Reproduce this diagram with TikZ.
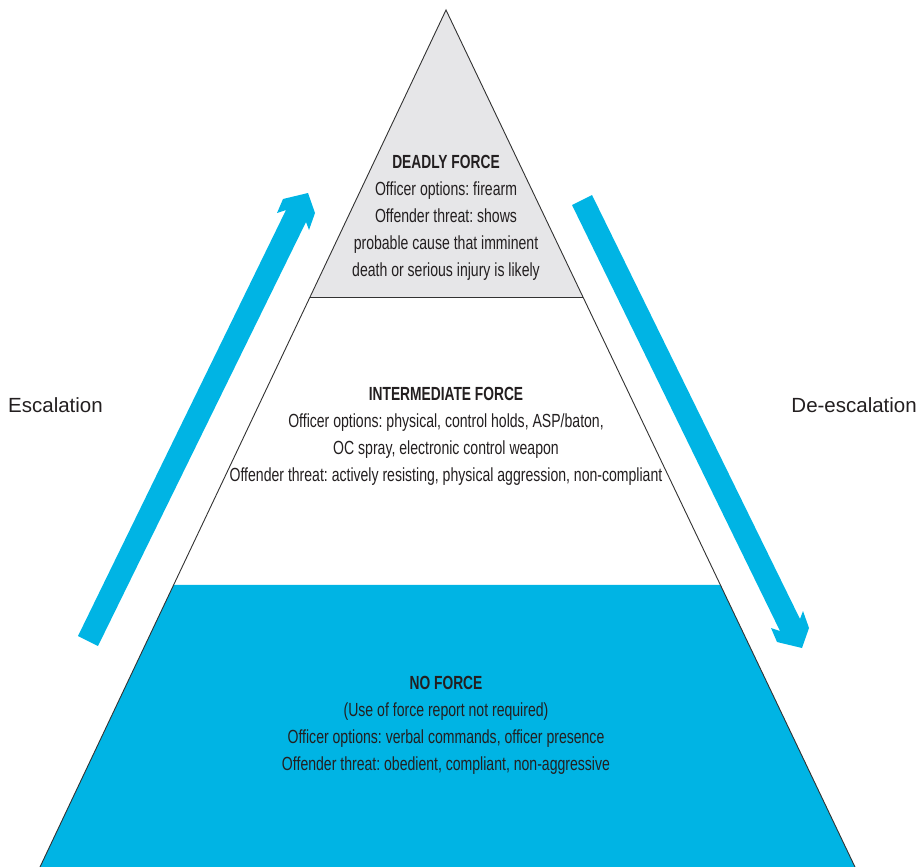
\documentclass[tikz,border=0pt]{standalone}
\usepackage{fontspec}
\setmainfont{Liberation Sans}
\newfontfamily\cond{Liberation Sans}[FakeStretch=0.74]
\newfontfamily\condb{Liberation Sans Bold}[FakeStretch=0.725]
\usetikzlibrary{calc}
\definecolor{pblue}{RGB}{0,180,228}
\definecolor{pgray}{RGB}{230,230,232}
\definecolor{pline}{RGB}{50,50,50}
\definecolor{ptext}{RGB}{35,31,32}
\tikzset{
  edgeline/.style={draw=pline, line width=0.9pt},
  blocktext/.style={align=center, text=ptext, font=\frenchspacing\cond\fontsize{19}{27}\selectfont, inner sep=0pt},
  sidetext/.style={text=ptext, font=\fontsize{20.5}{24}\selectfont, inner sep=0pt},
  bigarrow/.style={fill=pblue, draw=none}
}
\begin{document}
\begin{tikzpicture}[x=1pt,y=-1pt]
\useasboundingbox (0,0) rectangle (921,867);
\begin{scope}
\clip (0,0) rectangle (921,867);
\coordinate (apex) at (446,10);
\coordinate (bl) at (40,867);
\coordinate (br) at (855,867);
\coordinate (l1) at ($(apex)!0.3349!(bl)$);
\coordinate (r1) at ($(apex)!0.3349!(br)$);
\coordinate (l2) at ($(apex)!0.6709!(bl)$);
\coordinate (r2) at ($(apex)!0.6709!(br)$);
\fill[pgray] (apex) -- (l1) -- (r1) -- cycle;
\fill[white] (l1) -- (l2) -- (r2) -- (r1) -- cycle;
\fill[pblue] (l2) -- (bl) -- (br) -- (r2) -- cycle;
\draw[edgeline] (bl) -- (apex) -- (br);
\draw[edgeline] (l1) -- (r1);
\end{scope}
% arrows
\fill[bigarrow] (78,636) -- (286,210) -- (277,213) -- (283,199) -- (308,193) -- (315,213) -- (309,230) -- (306,222) -- (98,646) -- cycle;
\fill[bigarrow] (572,205) -- (780,631) -- (771,628) -- (777,642) -- (802,648) -- (809,628) -- (803,611) -- (800,619) -- (592,195) -- cycle;
% texts
\node[blocktext] (deadly) at (446,217.5) {{\condb DEADLY FORCE}\\Officer options: firearm\\Offender threat: shows\\probable cause that imminent\\death or serious injury is likely};
\node[blocktext] (inter) at (446,436) {{\condb INTERMEDIATE FORCE}\\Officer options: physical, control holds, ASP/baton,\\OC spray, electronic control weapon\\Offender threat: actively resisting, physical aggression, non-compliant};
\node[blocktext] (noforce) at (446,725.5) {{\condb NO FORCE}\\(Use of force report not required)\\Officer options: verbal commands, officer presence\\Offender threat: obedient, compliant, non-aggressive};
\node[sidetext, anchor=west] (esc) at (8,405) {Escalation};
\node[sidetext, anchor=east] (desc) at (917,405) {De-escalation};
\end{tikzpicture}
\end{document}
